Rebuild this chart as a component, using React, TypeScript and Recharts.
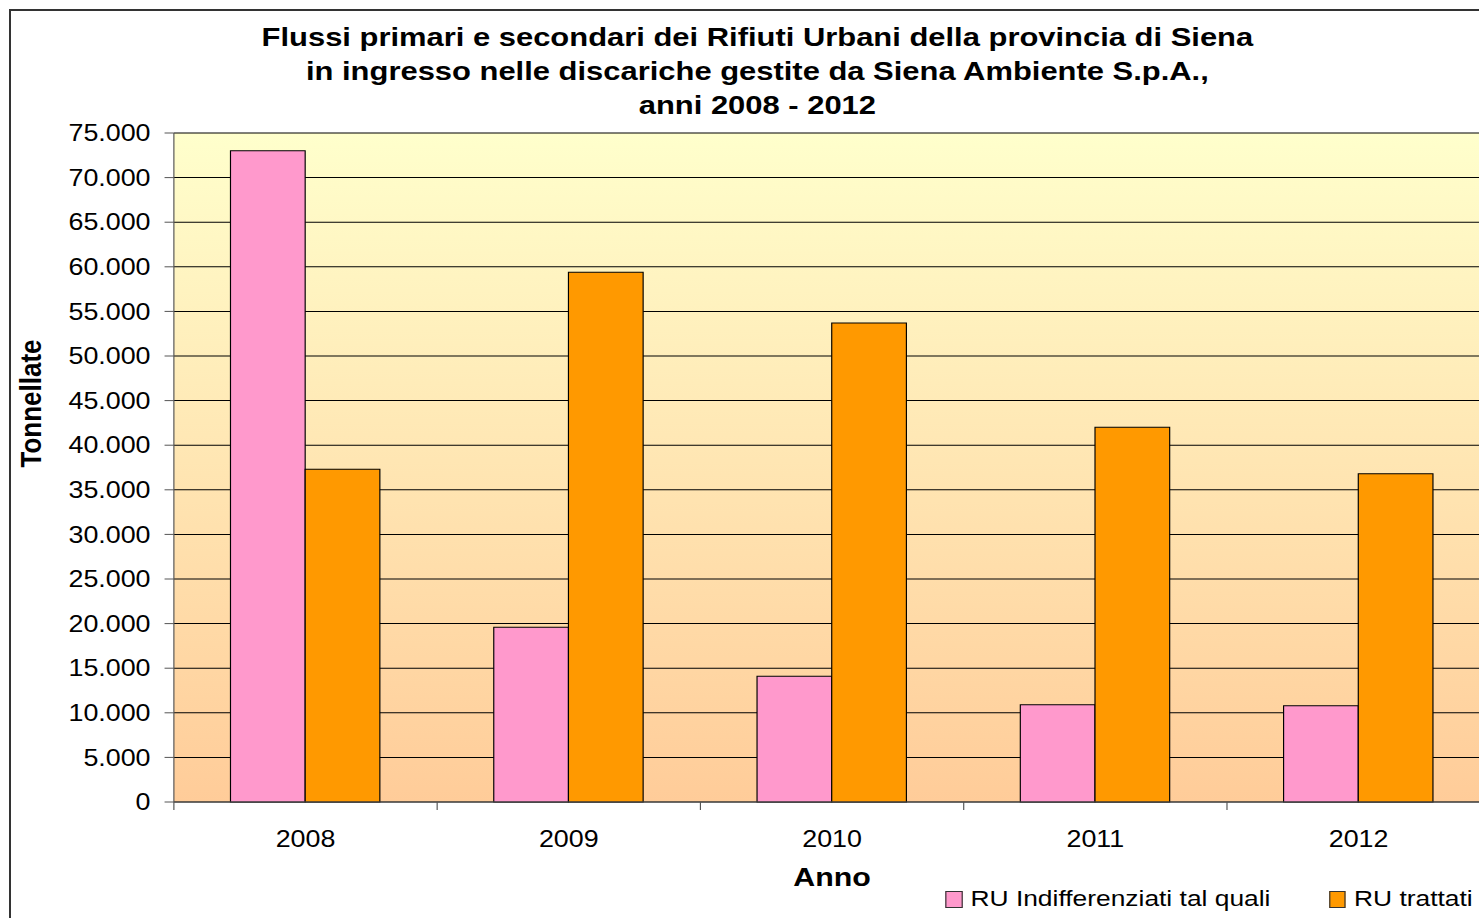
import React from "react";
import { BarChart, Bar, XAxis, YAxis, CartesianGrid, Legend, Label } from "recharts";

// values (tonnes)
const YEARS = ["2008", "2009", "2010", "2011", "2012"];
const INDIFFERENZIATI = [73000, 19600, 14100, 10900, 10800];
const TRATTATI = [37300, 59400, 53700, 42000, 36800];
const Y_TICKS = [0, 5000, 10000, 15000, 20000, 25000, 30000, 35000, 40000, 45000, 50000, 55000, 60000, 65000, 70000, 75000];

const TITLE = [
  "Flussi primari e secondari dei Rifiuti Urbani della provincia di Siena",
  "in ingresso nelle discariche gestite da Siena Ambiente S.p.A.,",
  "anni 2008 - 2012",
];

const data = YEARS.map((anno, i) => ({
  anno,
  indiff: INDIFFERENZIATI[i],
  trattati: TRATTATI[i],
}));

const FONT = "'Liberation Sans', Arial, sans-serif";
// the reference image is stretched horizontally
const SX = 1.167;
const W = 1300;
const H = 918;

const fmt = (v: number) => String(v).replace(/\B(?=(\d{3})+(?!\d))/g, ".");

const YearTick = (props: any) => {
  const { x, y, payload, width } = props;
  const half = payload?.offset ?? (width ? width / YEARS.length / 2 : 112.75);
  return (
    <g>
      <line x1={x - half} y1={y} x2={x - half} y2={y + 8} stroke="#555" />
      <text x={x} y={y + 45} textAnchor="middle" fontSize={23} fill="#000" fontFamily={FONT}>
        {payload.value}
      </text>
    </g>
  );
};

const YLabel = (props: any) => {
  const vb = props.viewBox || { y: 133, height: 669 };
  const cy = vb.y + vb.height / 2 - 64;
  return (
    <text
      transform={`translate(26,${cy}) rotate(-90)`}
      textAnchor="middle"
      dominantBaseline="central"
      fontSize={26}
      fontWeight="bold"
      fontFamily={FONT}
      fill="#000"
    >
      Tonnellate
    </text>
  );
};

const XLabel = (props: any) => {
  const vb = props.viewBox || { x: 149, y: 802, width: 1128 };
  return (
    <text
      x={vb.x + vb.width / 2}
      y={vb.y + 84}
      textAnchor="middle"
      fontSize={26}
      fontWeight="bold"
      fontFamily={FONT}
      fill="#000"
    >
      Anno
    </text>
  );
};

const renderLegend = (props: any) => {
  const items = props.payload || [];
  return (
    <div style={{ display: "flex", alignItems: "center", fontFamily: FONT, fontSize: 22.6, color: "#000", lineHeight: "26px" }}>
      {items.map((it: any, i: number) => (
        <div key={i} style={{ display: "flex", alignItems: "center", marginRight: i === 0 ? 50 : 0 }}>
          <span
            style={{
              display: "inline-block",
              width: 14.6,
              height: 17,
              boxSizing: "border-box",
              border: "1px solid #333",
              background: it.color,
              marginRight: 7,
            }}
          />
          <span style={{ whiteSpace: "nowrap" }}>{it.value}</span>
        </div>
      ))}
    </div>
  );
};

export default function App() {
  return (
    <div style={{ position: "absolute", left: 0, top: 0, width: 1479, height: 918, overflow: "hidden", background: "#fff" }}>
      <div
        style={{
          position: "absolute",
          left: 9,
          top: 9,
          width: 3000,
          height: 3000,
          borderLeft: "2px solid #333",
          borderTop: "2px solid #333",
        }}
      />
      <div
        style={{
          position: "absolute",
          left: 0,
          top: 0,
          width: W,
          height: H,
          transform: `scaleX(${SX})`,
          transformOrigin: "0 0",
          fontFamily: FONT,
        }}
      >
        <div
          style={{
            position: "absolute",
            left: 0,
            top: 20,
            width: 1298,
            textAlign: "center",
            fontSize: 26.5,
            fontWeight: "bold",
            lineHeight: "34px",
            color: "#000",
            zIndex: 2,
          }}
        >
          {TITLE.map((t, i) => (
            <div key={i}>{t}</div>
          ))}
        </div>
        <BarChart
          width={W}
          height={H}
          data={data}
          margin={{ top: 133, right: 23, bottom: 56, left: 0 }}
          barCategoryGap="21.5%"
          barGap={0}
        >
          <defs>
            <linearGradient id="bgGrad" x1="0" y1="0" x2="0" y2="1">
              <stop offset="0%" stopColor="#FFFFCC" />
              <stop offset="100%" stopColor="#FFCC99" />
            </linearGradient>
          </defs>
          <CartesianGrid vertical={false} stroke="#000" fill="url(#bgGrad)" fillOpacity={1} />
          <XAxis
            dataKey="anno"
            height={60}
            tickSize={0}
            tickMargin={0}
            tickLine={false}
            stroke="#555"
            tick={<YearTick />}
            interval={0}
          >
            <Label content={<XLabel />} />
          </XAxis>
          <YAxis
            width={149}
            domain={[0, 75000]}
            ticks={Y_TICKS}
            interval={0}
            tickFormatter={fmt}
            tickSize={8}
            tickMargin={12}
            stroke="#555"
            tick={{ fill: "#000", fontSize: 23, fontFamily: FONT }}
          >
            <Label content={<YLabel />} />
          </YAxis>
          <Legend
            verticalAlign="middle"
            align="center"
            layout="horizontal"
            wrapperStyle={{ left: 810, top: 886, width: 500 }}
            content={renderLegend}
          />
          <Bar dataKey="indiff" name="RU Indifferenziati tal quali" fill="#FF99CC" stroke="#000" strokeWidth={1} isAnimationActive={false} />
          <Bar dataKey="trattati" name="RU trattati" fill="#FF9900" stroke="#000" strokeWidth={1} isAnimationActive={false} />
        </BarChart>
      </div>
    </div>
  );
}
